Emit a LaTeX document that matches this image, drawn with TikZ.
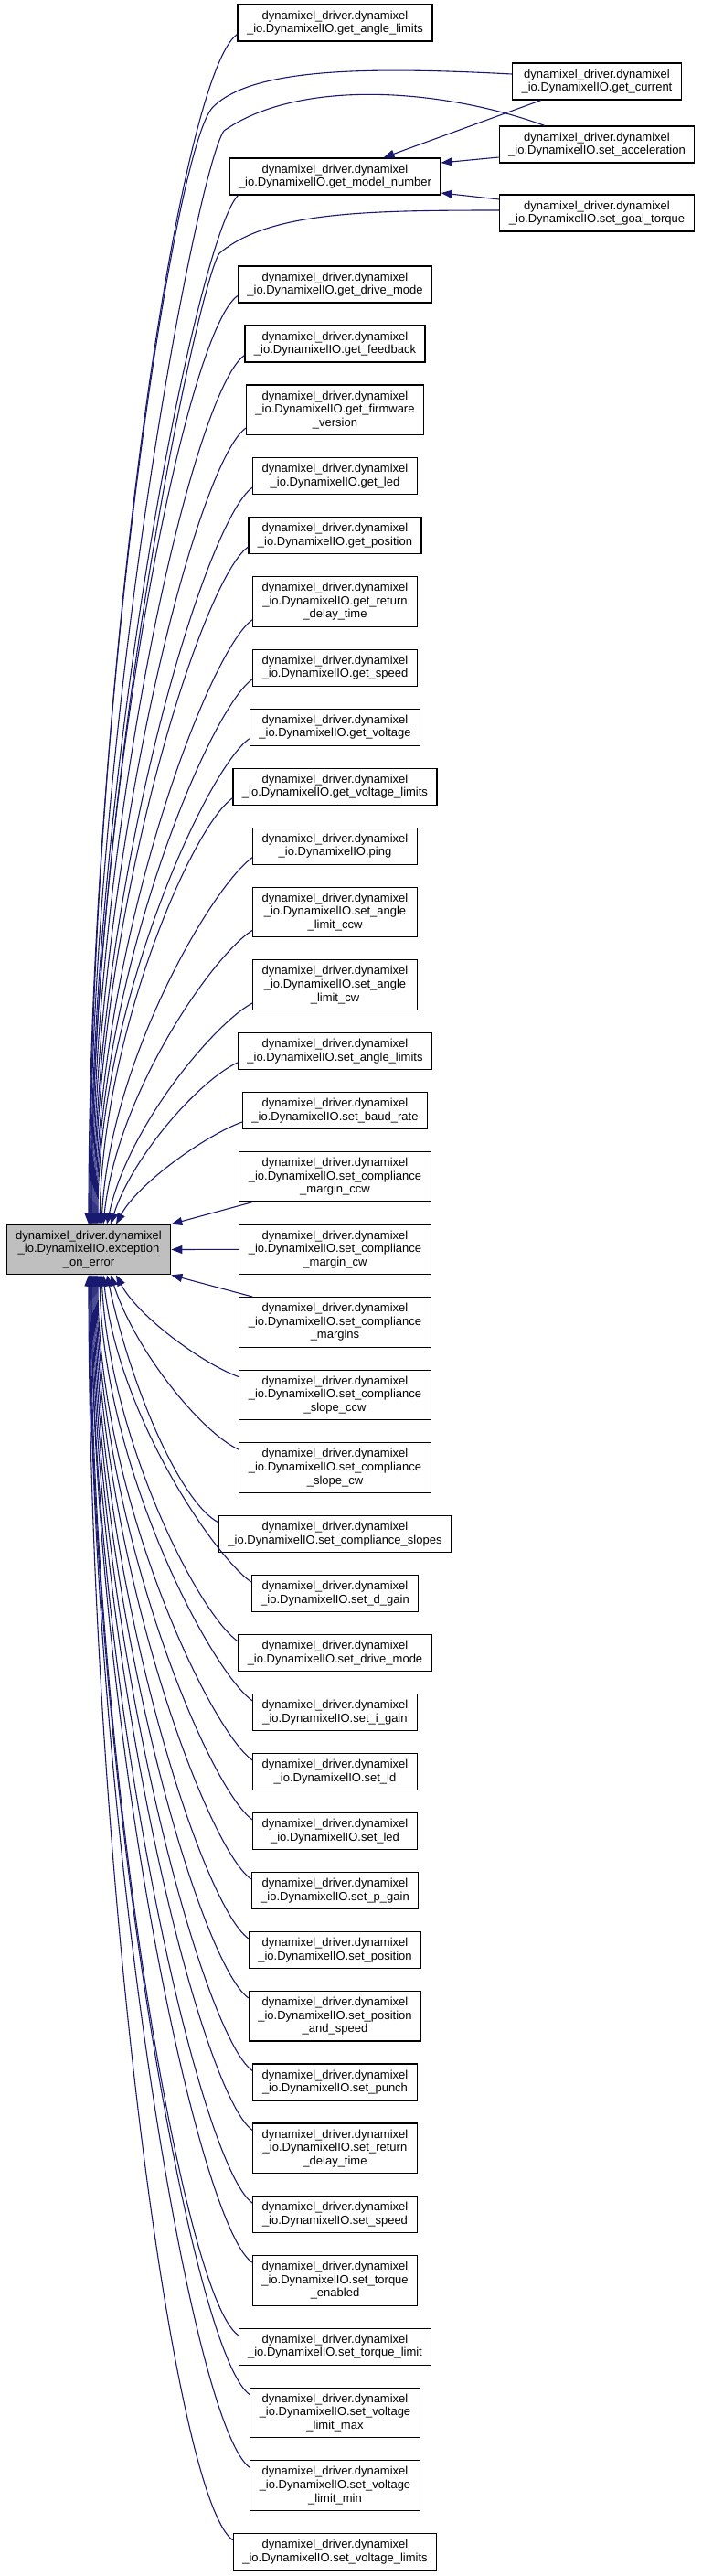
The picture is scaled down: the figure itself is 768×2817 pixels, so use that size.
\documentclass[tikz,border=0pt]{standalone}
\usepackage{fontspec}
\setmainfont{Liberation Sans}
\usetikzlibrary{arrows.meta, positioning}
\definecolor{edgeBlue}{HTML}{191970}
\definecolor{hiliteGray}{HTML}{BFBFBF}
\newcommand{\dxlio}{dynamixel\_driver.dynamixel\\\_io.DynamixelIO.}

\begin{document}
\begin{tikzpicture}[x=1pt, y=1pt, node distance=23.9pt,
    every node/.style={font=\fontsize{13}{14.6}\selectfont},
    fn/.style={draw=black, line width=1.1pt, fill=white, align=center,
      inner xsep=10pt, inner ysep=2pt, minimum height=40pt},
    fn3/.style={fn, minimum height=54.6pt},
    call/.style={draw=edgeBlue, line width=1.1pt, -{Triangle[length=12pt, width=9pt]}}]
    \useasboundingbox (0,0) rectangle (768,-2817);

    % callers on the far right
    \node[fn] (curr) at (653,-89) {\dxlio get\_current};
    \node[fn] (accel) at (653,-158) {\dxlio set\_acceleration};
    \node[fn] (goal) at (653,-233) {\dxlio set\_goal\_torque};

    % middle column
    \node[fn] (angl) at (366.5,-25) {\dxlio get\_angle\_limits};
    \node[fn] (modl) at (366.5,-193) {\dxlio get\_model\_number};
    \node[fn] (gdrive) at (366.5,-311) {\dxlio get\_drive\_mode};
    \node[fn, below=of gdrive] (feed) {\dxlio get\_feedback};
    \node[fn3, below=of feed] (firm) {\dxlio get\_firmware\\\_version};
    \node[fn, below=of firm] (gled) {\dxlio get\_led};
    \node[fn, below=of gled] (gpos) {\dxlio get\_position};
    \node[fn3, below=of gpos] (gret) {\dxlio get\_return\\\_delay\_time};
    \node[fn, below=of gret] (gspeed) {\dxlio get\_speed};
    \node[fn, below=of gspeed] (gvolt) {\dxlio get\_voltage};
    \node[fn, below=of gvolt] (gvlim) {\dxlio get\_voltage\_limits};
    \node[fn, below=of gvlim] (ping) {\dxlio ping};
    \node[fn3, below=of ping] (alccw) {\dxlio set\_angle\\\_limit\_ccw};
    \node[fn3, below=of alccw] (alcw) {\dxlio set\_angle\\\_limit\_cw};
    \node[fn, below=of alcw] (alims) {\dxlio set\_angle\_limits};
    \node[fn, below=of alims] (baud) {\dxlio set\_baud\_rate};
    \node[fn3, below=of baud] (mccw) {\dxlio set\_compliance\\\_margin\_ccw};
    \node[fn3, below=of mccw] (mcw) {\dxlio set\_compliance\\\_margin\_cw};
    \node[fn3, below=of mcw] (margs) {\dxlio set\_compliance\\\_margins};
    \node[fn3, below=of margs] (sccw) {\dxlio set\_compliance\\\_slope\_ccw};
    \node[fn3, below=of sccw] (scw) {\dxlio set\_compliance\\\_slope\_cw};
    \node[fn, below=of scw] (slopes) {\dxlio set\_compliance\_slopes};
    \node[fn, below=of slopes] (dgain) {\dxlio set\_d\_gain};
    \node[fn, below=of dgain] (sdrive) {\dxlio set\_drive\_mode};
    \node[fn, below=of sdrive] (igain) {\dxlio set\_i\_gain};
    \node[fn, below=of igain] (sid) {\dxlio set\_id};
    \node[fn, below=of sid] (sled) {\dxlio set\_led};
    \node[fn, below=of sled] (pgain) {\dxlio set\_p\_gain};
    \node[fn, below=of pgain] (spos) {\dxlio set\_position};
    \node[fn3, below=of spos] (posspd) {\dxlio set\_position\\\_and\_speed};
    \node[fn, below=of posspd] (punch) {\dxlio set\_punch};
    \node[fn3, below=of punch] (sret) {\dxlio set\_return\\\_delay\_time};
    \node[fn, below=of sret] (sspeed) {\dxlio set\_speed};
    \node[fn3, below=of sspeed] (torqen) {\dxlio set\_torque\\\_enabled};
    \node[fn, below=of torqen] (torqlim) {\dxlio set\_torque\_limit};
    \node[fn3, below=of torqlim] (vmax) {\dxlio set\_voltage\\\_limit\_max};
    \node[fn3, below=of vmax] (vmin) {\dxlio set\_voltage\\\_limit\_min};
    \node[fn, below=of vmin] (vlims) {\dxlio set\_voltage\_limits};

    % the function everything calls
    \node[fn3, fill=hiliteGray] (exc) at (97,-1366.5) {\dxlio exception\\\_on\_error};

    % right column into get_model_number
    \draw[call] ([xshift=-61pt]curr.south) -- ([xshift=53pt]modl.north);
    \draw[call] ([yshift=-14pt]accel.west) -- ([yshift=15pt]modl.east);
    \draw[call] ([yshift=15pt]goal.west) -- ([yshift=-18pt]modl.east);

    % right column into exception_on_error
    \draw[call] ([yshift=8pt]curr.west) .. controls +(177:160) and +(45:60) .. (233,-117)
      .. controls +(225:60) and +(90:560) .. (exc.north);
    \draw[call] ([xshift=-57pt]accel.north) .. controls +(160:120) and +(35:100) .. (245,-143)
      .. controls +(235:50) and +(90:550) .. ([xshift=1pt]exc.north);
    \draw[call] ([yshift=3pt]goal.west) .. controls +(180:150) and +(40:70) .. (240,-277)
      .. controls +(235:40) and +(90:480) .. ([xshift=3pt]exc.north);
    \draw[call] ([xshift=10pt]modl.south west) .. controls +(225:60) and +(90:507) .. ([xshift=2pt]exc.north);

    % upper callers
    \draw[call] ([yshift=8pt]angl.south west) .. controls +(215:79) and +(90:586) .. ([xshift=1pt]exc.north);
    \draw[call] ([yshift=8pt]gdrive.south west) .. controls +(215:70) and +(90:457) .. ([xshift=3pt]exc.north);
    \draw[call] ([yshift=8pt]feed.south west) .. controls +(215:69) and +(90:428) .. ([xshift=4pt]exc.north);
    \draw[call] ([yshift=8pt]firm.south west) .. controls +(215:66) and +(90:392) .. ([xshift=5pt]exc.north);
    \draw[call] ([yshift=8pt]gled.south west) .. controls +(215:64) and +(90:363) .. ([xshift=6pt]exc.north);
    \draw[call] ([yshift=8pt]gpos.south west) .. controls +(215:62) and +(90:334) .. ([xshift=7pt]exc.north);
    \draw[call] ([yshift=8pt]gret.south west) .. controls +(215:60) and +(90:298) .. ([xshift=8pt]exc.north);
    \draw[call] ([yshift=8pt]gspeed.south west) .. controls +(215:58) and +(90:269) .. ([xshift=9pt]exc.north);
    \draw[call] ([yshift=8pt]gvolt.south west) .. controls +(215:56) and +(90:239) .. ([xshift=10pt]exc.north);
    \draw[call] ([yshift=8pt]gvlim.south west) .. controls +(215:54) and +(89:210) .. ([xshift=12pt]exc.north);
    \draw[call] ([yshift=8pt]ping.south west) .. controls +(215:52) and +(87:181) .. ([xshift=14pt]exc.north);
    \draw[call] ([yshift=8pt]alccw.south west) .. controls +(212:50) and +(84:145) .. ([xshift=16pt]exc.north);
    \draw[call] ([yshift=8pt]alcw.south west) .. controls +(208:47) and +(78:109) .. ([xshift=20pt]exc.north);
    \draw[call] ([yshift=8pt]alims.south west) .. controls +(205:45) and +(72:80) .. ([xshift=24pt]exc.north);
    \draw[call] ([yshift=8pt]baud.south west) .. controls +(200:43) and +(62:50) .. ([xshift=30pt]exc.north);

    % straight ones beside it
    \draw[call] ([xshift=15pt]mccw.south west) -- (exc.north east);
    \draw[call] (mcw.west) -- (exc.east);
    \draw[call] ([xshift=15pt]margs.north west) -- (exc.south east);

    % lower callers
    \draw[call] ([yshift=-8pt]sccw.north west) .. controls +(160:43) and +(-62:51) .. ([xshift=30pt]exc.south);
    \draw[call] ([yshift=-8pt]scw.north west) .. controls +(155:46) and +(-72:87) .. ([xshift=24pt]exc.south);
    \draw[call] ([yshift=-8pt]slopes.north west) .. controls +(152:48) and +(-78:123) .. ([xshift=20pt]exc.south);
    \draw[call] ([yshift=-8pt]dgain.north west) .. controls +(145:50) and +(-84:153) .. ([xshift=16pt]exc.south);
    \draw[call] ([yshift=-8pt]sdrive.north west) .. controls +(145:52) and +(-87:182) .. ([xshift=14pt]exc.south);
    \draw[call] ([yshift=-8pt]igain.north west) .. controls +(145:54) and +(-89:211) .. ([xshift=12pt]exc.south);
    \draw[call] ([yshift=-8pt]sid.north west) .. controls +(145:56) and +(-90:240) .. ([xshift=10pt]exc.south);
    \draw[call] ([yshift=-8pt]sled.north west) .. controls +(145:58) and +(-90:270) .. ([xshift=9pt]exc.south);
    \draw[call] ([yshift=-8pt]pgain.north west) .. controls +(145:60) and +(-90:299) .. ([xshift=8pt]exc.south);
    \draw[call] ([yshift=-8pt]spos.north west) .. controls +(145:62) and +(-90:328) .. ([xshift=7pt]exc.south);
    \draw[call] ([yshift=-8pt]posspd.north west) .. controls +(145:64) and +(-90:357) .. ([xshift=6pt]exc.south);
    \draw[call] ([yshift=-8pt]punch.north west) .. controls +(145:66) and +(-90:393) .. ([xshift=5pt]exc.south);
    \draw[call] ([yshift=-8pt]sret.north west) .. controls +(145:68) and +(-90:422) .. ([xshift=4pt]exc.south);
    \draw[call] ([yshift=-8pt]sspeed.north west) .. controls +(145:70) and +(-90:458) .. ([xshift=3pt]exc.south);
    \draw[call] ([yshift=-8pt]torqen.north west) .. controls +(145:72) and +(-90:487) .. ([xshift=3pt]exc.south);
    \draw[call] ([yshift=-8pt]torqlim.north west) .. controls +(145:75) and +(-90:522) .. ([xshift=2pt]exc.south);
    \draw[call] ([yshift=-8pt]vmax.north west) .. controls +(145:77) and +(-90:552) .. ([xshift=1pt]exc.south);
    \draw[call] ([yshift=-8pt]vmin.north west) .. controls +(145:79) and +(-90:588) .. ([xshift=1pt]exc.south);
    \draw[call] ([yshift=-8pt]vlims.north west) .. controls +(145:82) and +(-90:624) .. (exc.south);
\end{tikzpicture}
\end{document}
